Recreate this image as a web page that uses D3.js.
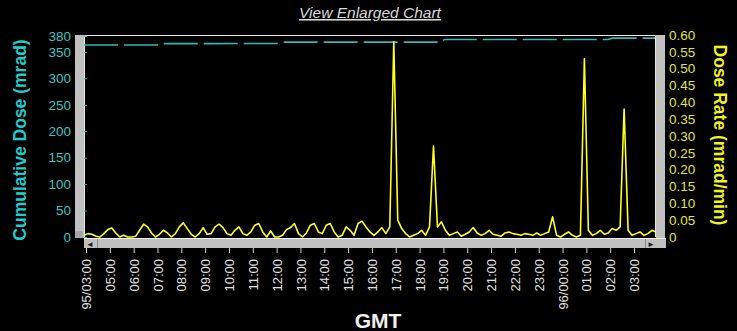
<!DOCTYPE html>
<html>
<head>
<meta charset="utf-8">
<script src="https://cdn.jsdelivr.net/npm/d3@7"></script>
<style>
  body { margin: 0; background: #000; }
  svg { display: block; font-family: "Liberation Sans", Arial, sans-serif; }
</style>
</head>
<body>
<svg id="chart" width="737" height="331"></svg>
<script>
// cumulative dose (mrad)
const doseHours = [3.92, 7.2, 7.3, 12.0, 12.35, 18.9, 19.05, 25.9, 26.1, 27.88];
const doseValues = [363, 363, 365.5, 366, 368.5, 368.5, 373.5, 373.5, 376, 376];

// dose rate (mrad/min), one reading every 10 minutes from 03:55
const rateStart = 3.917;
const rateStepHours = 1 / 6;
const rateValues = [
  0.005, 0.01, 0.008, 0.002, 0.0, 0.01, 0.022, 0.027, 0.012, 0.0,
  0.005, 0.0, 0.0, 0.002, 0.02, 0.038, 0.03, 0.012, 0.0, 0.008,
  0.02, 0.012, 0.0, 0.01, 0.03, 0.042, 0.025, 0.008, 0.0, 0.01,
  0.028, 0.008, 0.01, 0.03, 0.038, 0.028, 0.01, 0.005, 0.02, 0.03,
  0.01, 0.005, 0.015, 0.035, 0.04, 0.015, 0.0, 0.018, 0.0, 0.0,
  0.005, 0.022, 0.028, 0.04, 0.01, 0.0, 0.012, 0.035, 0.04, 0.015,
  0.01, 0.035, 0.04, 0.015, 0.0, 0.005, 0.03, 0.02, 0.005, 0.04,
  0.047, 0.03, 0.015, 0.005, 0.015, 0.028, 0.01, 0.03, 0.58, 0.05,
  0.025, 0.01, 0.0, 0.005, 0.01, 0.02, 0.005, 0.03, 0.27, 0.03,
  0.045, 0.02, 0.005, 0.01, 0.015, 0.002, 0.008, 0.015, 0.028, 0.012,
  0.005, 0.01, 0.02, 0.008, 0.005, 0.002, 0.012, 0.015, 0.01, 0.008,
  0.005, 0.01, 0.008, 0.005, 0.012, 0.005, 0.01, 0.015, 0.06, 0.005,
  0.0, 0.008, 0.015, 0.005, 0.0, 0.005, 0.53, 0.02, 0.005, 0.01,
  0.02, 0.008, 0.012, 0.025, 0.02, 0.03, 0.38, 0.02, 0.005, 0.01,
  0.015, 0.005, 0.01, 0.02, 0.015
];

// tick labels
const hourTicks = [4, 5, 6, 7, 8, 9, 10, 11, 12, 13, 14, 15, 16, 17, 18, 19, 20, 21, 22, 23, 24, 25, 26, 27];
const hourLabels = ["95/03:00", "05:00", "06:00", "07:00", "08:00", "09:00", "10:00", "11:00", "12:00",
  "13:00", "14:00", "15:00", "16:00", "17:00", "18:00", "19:00", "20:00", "21:00", "22:00", "23:00",
  "96/00:00", "01:00", "02:00", "03:00"];
const doseTicks = [0, 50, 100, 150, 200, 250, 300, 350, 380];
const rateTicks = [0, 0.05, 0.1, 0.15, 0.2, 0.25, 0.3, 0.35, 0.4, 0.45, 0.5, 0.55, 0.6];

// plot box
const plotLeft = 84, plotRight = 655, plotTop = 35, plotBottom = 237;
const cyan = "#2fb9b9", yellow = "#ffff1a";

const svg = d3.select("#chart");

const x = d3.scaleLinear().domain([3.916, 27.88]).range([plotLeft, plotRight]);
const yDose = d3.scaleLinear().domain([0, 380]).range([plotBottom, plotTop + 1]);
const yRate = d3.scaleLinear().domain([0, 0.6]).range([plotBottom, plotTop]);

// title
svg.append("text")
  .attr("x", 370).attr("y", 18)
  .attr("text-anchor", "middle")
  .attr("fill", "#d8d8d8")
  .style("font-size", "15.5px")
  .style("font-style", "italic")
  .style("text-decoration", "underline")
  .text("View Enlarged Chart");

// scrollbars and frame
svg.append("rect").attr("x", 75).attr("y", plotTop).attr("width", 9).attr("height", plotBottom - plotTop + 1).attr("fill", "#c0c0c0");
svg.append("rect").attr("x", 75).attr("y", plotBottom - 6).attr("width", 8).attr("height", 7).attr("fill", "#a8a8a8");
svg.append("rect").attr("x", plotRight + 1).attr("y", plotTop).attr("width", 9).attr("height", plotBottom - plotTop + 1).attr("fill", "#c0c0c0");
svg.append("rect").attr("x", plotLeft).attr("y", plotBottom + 1).attr("width", plotRight - plotLeft + 11).attr("height", 10).attr("fill", "#c0c0c0");
svg.append("line").attr("x1", plotLeft).attr("x2", plotRight + 10).attr("y1", plotBottom + 1.5).attr("y2", plotBottom + 1.5).attr("stroke", "#f0f0f0");
svg.append("line").attr("x1", 97.5).attr("x2", 97.5).attr("y1", plotBottom + 2).attr("y2", plotBottom + 11).attr("stroke", "#8a8a8a");
svg.append("line").attr("x1", 645.5).attr("x2", 645.5).attr("y1", plotBottom + 2).attr("y2", plotBottom + 11).attr("stroke", "#8a8a8a");
svg.append("text").attr("x", 90).attr("y", plotBottom + 10).attr("text-anchor", "middle").attr("fill", "#202020").style("font-size", "8px").text("\u25C4");
svg.append("text").attr("x", 651).attr("y", plotBottom + 10).attr("text-anchor", "middle").attr("fill", "#202020").style("font-size", "8px").text("\u25BA");

svg.append("path")
  .attr("d", `M${plotLeft + 0.5},${plotBottom}V${plotTop + 0.5}H${plotRight + 0.5}V${plotBottom}`)
  .attr("fill", "none")
  .attr("stroke", "#e8e8e8");

// left axis
const gDose = svg.append("g")
  .attr("transform", `translate(${plotLeft},0)`)
  .call(d3.axisLeft(yDose).tickValues(doseTicks).tickSizeInner(-3).tickSizeOuter(0).tickPadding(13));
gDose.select(".domain").remove();
gDose.selectAll("line").attr("stroke", cyan);
gDose.selectAll("text").attr("fill", "#3cc4c4").style("font-size", "13.5px").style("font-family", "Liberation Sans, Arial");

// right axis
const gRate = svg.append("g")
  .attr("transform", `translate(${plotRight + 1},0)`)
  .call(d3.axisRight(yRate).tickValues(rateTicks).tickSizeInner(3).tickSizeOuter(0).tickPadding(10)
    .tickFormat(d => d === 0 ? "0" : d.toFixed(2)));
gRate.select(".domain").remove();
gRate.selectAll("line").attr("stroke", "#d0d050");
gRate.selectAll("text").attr("fill", "#e2e24c").style("font-size", "13.5px").style("font-family", "Liberation Sans, Arial");

// bottom axis
const gTime = svg.append("g")
  .attr("transform", `translate(0,${plotBottom + 11})`)
  .call(d3.axisBottom(x).tickValues(hourTicks).tickSizeInner(5).tickSizeOuter(0)
    .tickFormat((d, i) => hourLabels[i]));
gTime.select(".domain").remove();
gTime.selectAll("line").attr("stroke", "#d0d0d0");
gTime.selectAll("text")
  .attr("fill", "#e0e0e0")
  .style("font-size", "13px")
  .style("font-family", "Liberation Sans, Arial")
  .attr("transform", "rotate(-90)")
  .attr("x", -11).attr("y", 0).attr("dy", "0.35em")
  .style("text-anchor", "end");

// cumulative dose line
const doseLine = d3.line()
  .x((d, i) => x(doseHours[i]))
  .y(d => yDose(d));
svg.append("path")
  .datum(doseValues)
  .attr("fill", "none")
  .attr("stroke", cyan)
  .attr("stroke-width", 1.6)
  .attr("stroke-dasharray", "34,6")
  .attr("d", doseLine);

// dose rate line
const rateLine = d3.line()
  .x((d, i) => x(rateStart + i * rateStepHours))
  .y(d => yRate(d));
svg.append("path")
  .datum(rateValues)
  .attr("fill", "none")
  .attr("stroke", yellow)
  .attr("stroke-width", 1.6)
  .attr("stroke-linejoin", "round")
  .attr("d", rateLine);

// axis titles
svg.append("text")
  .attr("transform", "translate(26,140) rotate(-90)")
  .attr("text-anchor", "middle")
  .attr("fill", "#22cccc")
  .style("font-size", "17.5px")
  .style("font-weight", "bold")
  .text("Cumulative Dose (mrad)");

svg.append("text")
  .attr("transform", "translate(714,135) rotate(90)")
  .attr("text-anchor", "middle")
  .attr("fill", "#f2f21c")
  .style("font-size", "17.5px")
  .style("font-weight", "bold")
  .text("Dose Rate (mrad/min)");

svg.append("text")
  .attr("x", 378).attr("y", 328)
  .attr("text-anchor", "middle")
  .attr("fill", "#f0f0f0")
  .style("font-size", "21px")
  .style("font-weight", "bold")
  .text("GMT");
</script>
</body>
</html>
